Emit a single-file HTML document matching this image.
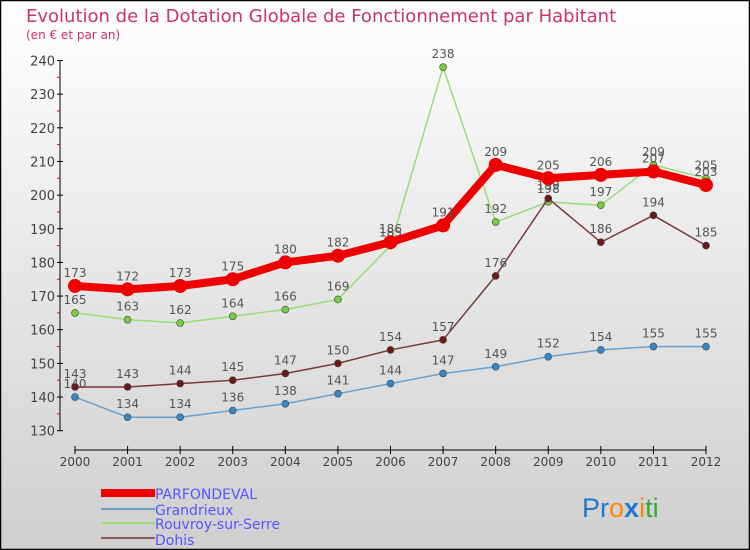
<!DOCTYPE html>
<html><head><meta charset="utf-8"><style>
body{margin:0}
#c{width:750px;height:550px;position:relative;overflow:hidden;background:linear-gradient(#ffffff,#cfcfcf);font-family:"DejaVu Sans","Liberation Sans",sans-serif}
</style></head><body>
<div id="c">
<svg id="s" width="750" height="550" style="position:absolute;left:0;top:0">
<rect x="0.5" y="0.5" width="749" height="549" fill="none" stroke="#000" stroke-width="1.5"/>
<text x="26" y="22" font-size="18" fill="#cc3366">Evolution de la Dotation Globale de Fonctionnement par Habitant</text>
<text x="26" y="39" font-size="12" fill="#cc3366">(en € et par an)</text>
<g id="axes"></g><g id="marks"></g>
<g>
<rect x="101" y="489" width="54" height="8" fill="#ee0000"/>
<text x="155" y="499" font-size="14" fill="#5555ff">PARFONDEVAL</text>
<rect x="101" y="508" width="54" height="2" fill="#6aa0cc"/>
<text x="155" y="515" font-size="14" fill="#5555ff">Grandrieux</text>
<rect x="101" y="522" width="54" height="2" fill="#99dd77"/>
<text x="155" y="529" font-size="14" fill="#5555ff">Rouvroy-sur-Serre</text>
<rect x="101" y="537" width="54" height="2" fill="#8a5a5a"/>
<text x="155" y="545" font-size="14" fill="#5555ff">Dohis</text>
</g>
<text x="582" y="517" font-size="27" font-family="Liberation Sans, sans-serif"><tspan fill="#2277cc">Pr</tspan><tspan fill="#ff8800">o</tspan><tspan fill="#2277cc" font-weight="bold">x</tspan><tspan fill="#ff8800">i</tspan><tspan fill="#33aa33">ti</tspan></text>
</svg>
</div>
<script>
const years=[2000,2001,2002,2003,2004,2005,2006,2007,2008,2009,2010,2011,2012];
const yTicks=[130,140,150,160,170,180,190,200,210,220,230,240];
const parfondeval=[173,172,173,175,180,182,186,191,209,205,206,207,203];
const grandrieux=[140,134,134,136,138,141,144,147,149,152,154,155,155];
const rouvroy=[165,163,162,164,166,169,185,238,192,198,197,209,205];
const dohis=[143,143,144,145,147,150,154,157,176,199,186,194,185];
const NS="http://www.w3.org/2000/svg";
function X(i){return 75+i*(706-75)/12;}
function Y(v){return 430.7-(v-130)*(430.7-60.5)/110;}
function el(t,a,p){const e=document.createElementNS(NS,t);for(const k in a)e.setAttribute(k,a[k]);p.appendChild(e);return e;}
const ax=document.getElementById('axes'),mk=document.getElementById('marks');
const yl=el('line',{x1:60,y1:Y(240),x2:60,y2:Y(130),stroke:'#000'},ax);


yTicks.forEach((v,i)=>{
 el('line',{x1:57,y1:Y(v),x2:63,y2:Y(v),stroke:'#000'},ax);
 if(i<yTicks.length-1)el('line',{x1:57,y1:Y(v+5),x2:60,y2:Y(v+5),stroke:'#e00'},ax);
 const t=el('text',{x:55,y:Y(v)+5,'font-size':13,fill:'#444','text-anchor':'end'},ax);
 
 
 t.textContent=v;
});
const xl=el('line',{x1:X(0),y1:450,x2:X(12),y2:450,stroke:'#000'},ax);


years.forEach((y,i)=>{
 el('line',{x1:X(i),y1:446,x2:X(i),y2:454,stroke:'#000'},ax);
 const t=el('text',{x:X(i),y:466,'font-size':12,fill:'#444','text-anchor':'middle'},ax);
 
 
 t.textContent=y;
});
function series(d,color,w,r,dot,name){
 const g=el('g',{},mk);
 
 
 el('polyline',{points:d.map((v,i)=>X(i)+','+Y(v)).join(' '),fill:'none',stroke:color,'stroke-width':w,'stroke-linejoin':'round'},g);
 d.forEach((v,i)=>{
  const c=el('circle',{cx:X(i),cy:Y(v),r:r,fill:dot,stroke:'#444','stroke-width':r>5?0:0.6},g);
  
  
  const t=el('text',{x:X(i),y:Y(v)-9,'font-size':12,fill:'#555','text-anchor':'middle'},g);
  t.textContent=v;
 });
}
series(grandrieux,'#6aa0cc',1.5,3.5,'#3388cc','grandrieux');
series(rouvroy,'#99dd77',1.5,3.5,'#77cc44','rouvroy');
series(dohis,'#7a3a3a',1.5,3.5,'#6a1a1a','dohis');
series(parfondeval,'#ee0000',8,7,'#ee0000','parfondeval');
</script>
</body></html>
